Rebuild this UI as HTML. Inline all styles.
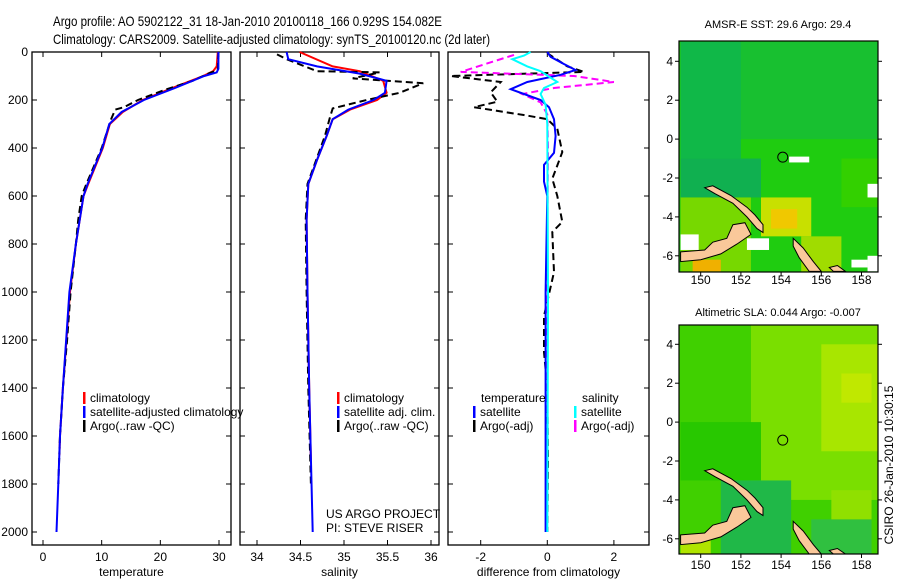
<!DOCTYPE html>
<html><head><meta charset="utf-8"><style>
html,body{margin:0;padding:0;background:#fff}
svg{display:block;font-family:"Liberation Sans",sans-serif}
</style></head><body>
<svg id="fig" width="900" height="580" viewBox="0 0 900 580" xmlns="http://www.w3.org/2000/svg">
<text x="53" y="26" font-size="14" textLength="389" lengthAdjust="spacingAndGlyphs">Argo profile: AO 5902122_31 18-Jan-2010 20100118_166 0.929S 154.082E</text>
<text x="53" y="44" font-size="14" textLength="437" lengthAdjust="spacingAndGlyphs">Climatology: CARS2009. Satellite-adjusted climatology: synTS_20100120.nc (2d later)</text>
<g id="g"></g>
</svg>
<script>
// ---------- data ----------
const depthTicks=[0,200,400,600,800,1000,1200,1400,1600,1800,2000];
const tempTicks=[0,10,20,30];
const salTicks=[34,34.5,35,35.5,36];
const salTickLabels=["34","34.5","35","35.5","36"];
const diffTicks=[-2,0,2];
const climTD=[0,60,80,100,150,200,250,300,400,550,600,800,1000,1400,1600,1680];
const climT=[29.8,29.6,29,27.3,22,17,13.6,11.4,10.2,7.7,6.9,5.6,4.6,3.4,2.9,2.8];
const satTD=[0,70,85,100,150,200,250,300,400,550,600,800,1000,1400,1600,1800,2000];
const satT=[29.9,29.9,29.6,27.5,22.5,17.2,13.4,11.3,10.1,7.6,6.9,5.6,4.5,3.4,2.9,2.6,2.3];
const argoTD=[0,75,90,120,160,200,230,240,280,400,550,600,700,800,1000,1200,1400,1600,1800];
const argoT=[29.9,29.8,28.2,25.5,20.5,16.2,13.8,12.3,11.6,10.0,7.4,6.6,6.0,5.6,4.7,4.1,3.4,2.9,2.6];
const climSD=[0,60,80,120,170,200,240,280,350,450,550,700,1000,1400,1700];
const climS=[34.49,34.87,35.18,35.45,35.49,35.38,35.07,34.87,34.8,34.69,34.59,34.57,34.58,34.6,34.62];
const satSD=[0,30,60,90,120,170,200,240,280,350,450,550,700,1000,1400,2000];
const satS=[34.34,34.36,34.69,35.18,35.49,35.47,35.34,35.05,34.87,34.8,34.69,34.59,34.57,34.58,34.6,34.64];
const argoSD=[10,30,80,85,110,130,170,200,235,270,350,450,550,700,1000,1400,1800];
const argoS=[34.23,34.34,34.69,35.41,35.1,35.91,35.64,35.26,34.87,34.84,34.78,34.68,34.58,34.56,34.57,34.59,34.62];
const dTD=[0,20,50,75,95,125,155,175,200,230,280,350,420,470,540,600,1000,1500,2000];
const dT=[0,0.1,0.5,0.85,0.4,-0.6,-1.1,-0.7,-0.2,0.05,0.2,0.25,0.2,-0.1,-0.1,0,-0.05,-0.05,-0.05];
const dSD=[0,15,30,60,80,125,150,175,220,300,1000,2000];
const dS=[-0.5,-0.7,-1.05,-0.6,-0.2,0.3,-0.1,-0.2,-0.05,0,0.02,0];
const aTD=[5,60,83,100,125,168,207,230,265,280,320,417,473,528,600,708,750,917,1100,1250,1400,1700,2000];
const aT=[0,0.6,1.1,-2.9,-1.4,-1.7,-1.5,-2.2,-0.6,0,0.3,0.45,0.3,0.15,0.3,0.45,0.15,0.2,-0.1,-0.1,0,0.02,0];
const aSD=[12,83,100,125,150,175,210,260,400,800,1500];
const aS=[-1.0,-2.6,0.8,2.0,0.2,-0.75,-0.2,0,0.02,0,0];

const NS="http://www.w3.org/2000/svg";
const G=document.getElementById('g');
function el(t,a,p){const e=document.createElementNS(NS,t);for(const k in a)e.setAttribute(k,a[k]);(p||G).appendChild(e);return e;}
function txt(x,y,s,a,p){const e=el('text',Object.assign({x:x,y:y,'font-size':12},a||{}),p);e.textContent=s;return e;}

const yD=d=>52+d*0.24;
const panels=[
 {x0:32,x1:231,f:v=>43+v*5.867,ticks:tempTicks,labels:tempTicks.map(String),label:"temperature",name:"temperature"},
 {x0:240,x1:439,f:v=>257+(v-34)*87,ticks:salTicks,labels:salTickLabels,label:"salinity",name:"salinity"},
 {x0:448,x1:649,f:v=>547.3+v*33.3,ticks:diffTicks,labels:diffTicks.map(String),label:"difference from climatology",name:"difference"}
];
panels.forEach((P,i)=>{
  const g=el('g',{});
  
  
  const r=el('rect',{x:P.x0,y:52,width:P.x1-P.x0,height:493,fill:'none',stroke:'#000','stroke-width':1.3},g);
  
  
  P.ticks.forEach((t,j)=>{
    const x=P.f(t);
    el('line',{x1:x,x2:x,y1:545,y2:540,stroke:'#000'},g);
    el('line',{x1:x,x2:x,y1:52,y2:57,stroke:'#000'},g);
    const tl=txt(x,561,P.labels[j],{'text-anchor':'middle'},g);
    
    
  });
  depthTicks.forEach(d=>{
    const y=yD(d);
    el('line',{x1:P.x0,x2:P.x0+5,y1:y,y2:y,stroke:'#000'},g);
    el('line',{x1:P.x1,x2:P.x1-5,y1:y,y2:y,stroke:'#000'},g);
    if(i===0){const tl=txt(28,y+4,String(d),{'text-anchor':'end'},g);
      
      }
  });
  const xl=txt((P.x0+P.x1)/2,576,P.label,{'text-anchor':'middle'},g);
  
  
});
function line(P,ds,vs,col,dash,name,w){
  const pts=ds.map((d,k)=>P.f(vs[k]).toFixed(1)+','+yD(d).toFixed(1)).join(' ');
  const e=el('polyline',{points:pts,fill:'none',stroke:col,'stroke-width':w||2,'stroke-dasharray':dash||'none'});
  
  
}
const [PT,PS,PD]=panels;
line(PT,climTD,climT,'#f00',null,'temp-climatology-line');
line(PT,argoTD,argoT,'#000','7,4','temp-argo-line');
line(PT,satTD,satT,'#00f',null,'temp-satellite-line');
line(PS,climSD,climS,'#f00',null,'sal-climatology-line');
line(PS,argoSD,argoS,'#000','7,4','sal-argo-line');
line(PS,satSD,satS,'#00f',null,'sal-satellite-line');
line(PD,aTD,aT,'#000','7,4','diff-temp-argo-line');
line(PD,aSD,aS,'#f0f','7,4','diff-sal-argo-line');
line(PD,dTD,dT,'#00f',null,'diff-temp-satellite-line');
line(PD,dSD,dS,'#0ff',null,'diff-sal-satellite-line');

function legend(x,y,col,label,name){
  const g=el('g',{});
  
  
  if(col)el('rect',{x:x,y:y-10,width:2.5,height:12,fill:col},g);
  txt(x+7,y,label,{},g);
}
legend(83,402,'#f00','climatology','legend-climatology');
legend(83,416,'#00f','satellite-adjusted climatology','legend-satellite');
legend(83,430,'#000','Argo(..raw -QC)','legend-argo');
legend(337,402,'#f00','climatology','legend-sal-climatology');
legend(337,416,'#00f','satellite adj. clim.','legend-sal-satellite');
legend(337,430,'#000','Argo(..raw -QC)','legend-sal-argo');
txt(481,402,'temperature');
legend(473,416,'#00f','satellite','legend-diff-temp-satellite');
legend(473,430,'#000','Argo(-adj)','legend-diff-temp-argo');
txt(582,402,'salinity');
legend(574,416,'#0ff','satellite','legend-diff-sal-satellite');
legend(574,430,'#f0f','Argo(-adj)','legend-diff-sal-argo');
const c1=txt(326,518,'US ARGO PROJECT');
const c2=txt(326,532,'PI: STEVE RISER');

// ---------- maps ----------
const lonTicks=[150,152,154,156,158];
const latTicks=[4,2,0,-2,-4,-6];
const mapDefs=[
 {name:'sst-map',top:41,bot:272,ly4:61.3,title:'AMSR-E SST: 29.6  Argo: 29.4',ty:28,lab:284,
  base:'#1fcc10',patches:[[149,5,159.2,0,'#18c030'],[149,5,152,-1,'#10b848'],[149,-1,153,-3,'#10b050'],[149,-3,152.5,-6.8,'#77d800'],[153,-3,155.5,-5,'#c8e000'],[153.5,-3.6,154.8,-4.6,'#f0c800'],[155,-5,157,-6.8,'#a0dc00'],[149.6,-6.2,151,-6.8,'#f0b000'],[157,-1,159.2,-3.5,'#33d000']],
  whites:[[154.4,-0.9,155.4,-1.2],[158.3,-2.3,159.2,-3],[158.8,-3.2,159.2,-3.6],[149,-4.9,149.9,-5.7],[152.3,-5.1,153.4,-5.7],[158.3,-6,159.2,-6.8],[157.5,-6.2,158.3,-6.6]]},
 {name:'sla-map',top:325,bot:554,ly4:344.3,title:'Altimetric SLA: 0.044  Argo: -0.007',ty:316,lab:569,
  base:'#40d000',patches:[[152.5,5,159.2,-4,'#7adf00'],[156,4,159.2,-1.5,'#a8e600'],[157,2.5,158.5,1,'#c0e800'],[149,0,153,-3,'#28c800'],[151,-3,154.5,-6.8,'#20b848'],[155.5,-5,158.5,-6.8,'#30c040'],[149,-6,150.5,-6.8,'#b0e400'],[156.5,-3.5,158.5,-5,'#90e000']],
  whites:[]}
];
const lands=[
 [[149,-5.8],[150.2,-5.7],[150.6,-5.3],[151.3,-5.1],[151.6,-4.4],[152.2,-4.3],[152.5,-4.9],[151.8,-5.4],[151,-5.9],[150,-6.2],[149,-6.3]],
 [[150.2,-2.5],[150.6,-2.4],[151.5,-2.9],[152.3,-3.5],[152.7,-3.9],[153.1,-4.4],[153.1,-4.8],[152.8,-4.6],[152.3,-4],[151.6,-3.3],[150.7,-2.8]],
 [[154.6,-5.1],[155.1,-5.6],[155.6,-6.3],[156,-6.8],[155.4,-6.8],[154.9,-6.1],[154.6,-5.5]],
 [[156.4,-6.6],[156.8,-6.5],[157.2,-6.8],[156.6,-6.8]]
];
mapDefs.forEach(M=>{
  const X=lon=>700.7+(lon-150)*20.1, Y=lat=>M.ly4+(4-lat)*19.45;
  const g=el('g',{});
  
  
  el('rect',{x:679,y:M.top,width:199,height:M.bot-M.top,fill:M.base},g);
  M.patches.forEach(p=>{
    const r=el('rect',{x:Math.max(679,X(p[0])),y:Math.max(M.top,Y(p[1])),width:Math.min(878,X(p[2]))-Math.max(679,X(p[0])),height:Math.min(M.bot,Y(p[3]))-Math.max(M.top,Y(p[1])),fill:p[4]},g);
    
    
  });
  M.whites.forEach(p=>{el('rect',{x:X(p[0]),y:Y(p[1]),width:X(p[2])-X(p[0]),height:Y(p[3])-Y(p[1]),fill:'#fff'},g);});
  lands.forEach(L=>{
    const pts=L.map(q=>Math.max(679,Math.min(878,X(q[0]))).toFixed(1)+','+Math.min(M.bot,Y(q[1])).toFixed(1)).join(' ');
    const p=el('polygon',{points:pts,fill:'#fac89a',stroke:'#000','stroke-width':1},g);
    
    
  });
  const c=el('circle',{cx:X(154.082),cy:Y(-0.929),r:5,fill:'none',stroke:'#000','stroke-width':1},g);
  
  
  el('rect',{x:679,y:M.top,width:199,height:M.bot-M.top,fill:'none',stroke:'#000','stroke-width':1.2},g);
  lonTicks.forEach(l=>{
    el('line',{x1:X(l),x2:X(l),y1:M.bot,y2:M.bot+4,stroke:'#000'},g);
    const t=txt(X(l),M.lab,String(l),{'text-anchor':'middle'},g);
    
    
  });
  latTicks.forEach(l=>{
    el('line',{x1:675,x2:679,y1:Y(l),y2:Y(l),stroke:'#000'},g);
    el('line',{x1:878,x2:882,y1:Y(l),y2:Y(l),stroke:'#000'},g);
    const t=txt(673,Y(l)+4,String(l),{'text-anchor':'end'},g);
    
    
  });
  const tt=txt(778,M.ty,M.title,{'text-anchor':'middle','font-size':11},g);
  
  
});
const st=txt(0,0,'CSIRO 26-Jan-2010 10:30:15',{'text-anchor':'middle',transform:'translate(893,465) rotate(-90)'});


</script>
</body></html>
